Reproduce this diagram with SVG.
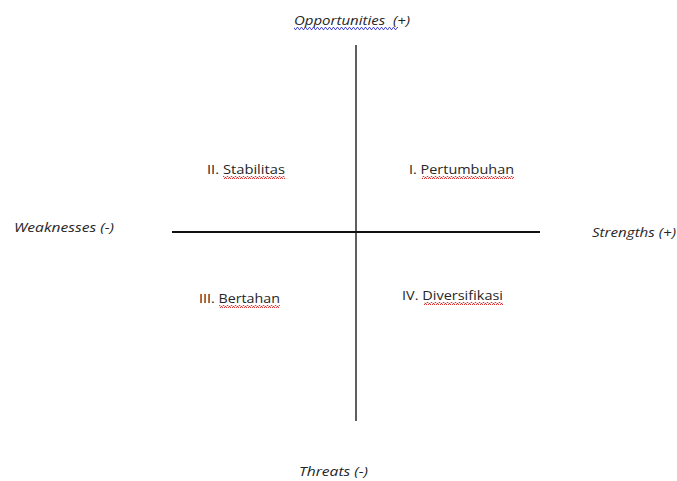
<svg xmlns="http://www.w3.org/2000/svg" width="677" height="481" viewBox="0 0 677 481">
<defs>
<pattern id="wr" width="4" height="3" patternUnits="userSpaceOnUse"><path d="M0,2.5 L1,0.5 L2,0.5 L3,2.5 L4,2.5" fill="none" stroke="#e02020" stroke-width="0.9"/></pattern>
<pattern id="wb" width="4" height="3" patternUnits="userSpaceOnUse"><path d="M0,2.5 L1,0.5 L2,0.5 L3,2.5 L4,2.5" fill="none" stroke="#3a3ae0" stroke-width="0.9"/></pattern>
</defs>
<style>
text{font-family:"Open Sans","Liberation Sans",sans-serif;font-size:13.5px;fill:#262626}
.i{font-style:italic}
</style>
<rect width="677" height="481" fill="#ffffff"/>
<g id="connectors">
<line x1="356" y1="45" x2="356" y2="421" stroke="#2a2a2a" stroke-width="1.5"/>
<line x1="172" y1="232" x2="540" y2="232" stroke="#111111" stroke-width="2"/>
</g>
<g id="opportunities">
<text class="i" x="294" y="25" textLength="116" lengthAdjust="spacingAndGlyphs">Opportunities&#160; (+)</text>
<rect x="294" y="27" width="104" height="3" fill="url(#wb)"/>
</g>
<g id="threats"><text class="i" x="299" y="476" textLength="69" lengthAdjust="spacingAndGlyphs">Threats (-)</text></g>
<g id="weaknesses"><text class="i" x="14" y="232" textLength="100" lengthAdjust="spacingAndGlyphs">Weaknesses (-)</text></g>
<g id="strengths"><text class="i" x="592" y="237" textLength="84" lengthAdjust="spacingAndGlyphs">Strengths (+)</text></g>
<g id="q1">
<text x="409" y="174" textLength="105" lengthAdjust="spacingAndGlyphs">I. Pertumbuhan</text>
<rect x="422" y="176" width="92" height="3" fill="url(#wr)"/>
</g>
<g id="q2">
<text x="207" y="174" textLength="78" lengthAdjust="spacingAndGlyphs">II. Stabilitas</text>
<rect x="223" y="176" width="62" height="3" fill="url(#wr)"/>
</g>
<g id="q3">
<text x="199" y="303" textLength="81" lengthAdjust="spacingAndGlyphs">III. Bertahan</text>
<rect x="219" y="305" width="61" height="3" fill="url(#wr)"/>
</g>
<g id="q4">
<text x="402" y="300" textLength="101" lengthAdjust="spacingAndGlyphs">IV. Diversifikasi</text>
<rect x="424" y="302" width="79" height="3" fill="url(#wr)"/>
</g>
</svg>
